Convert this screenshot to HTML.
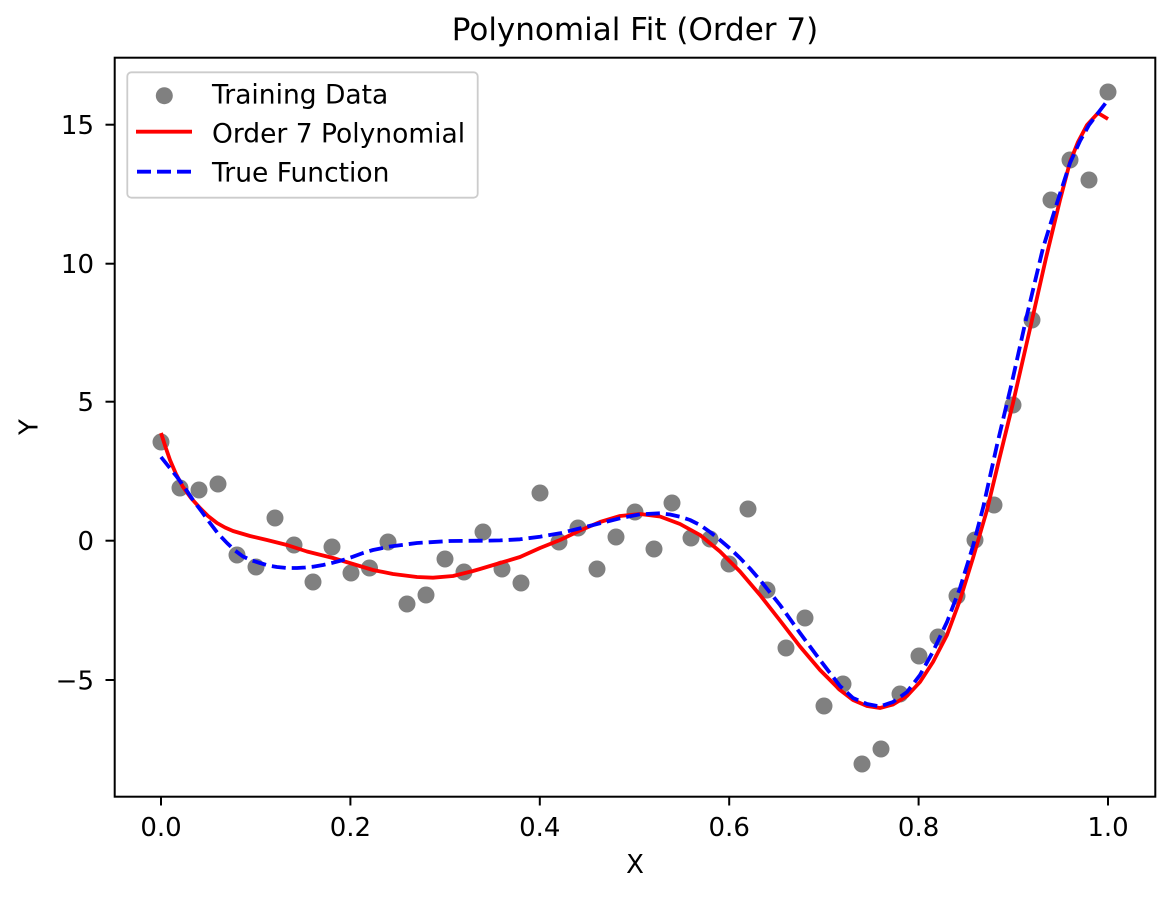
<!DOCTYPE html>
<html>
<head>
<meta charset="utf-8">
<style>
  html, body { margin: 0; padding: 0; background: #ffffff; }
  svg { display: block; }
  text { font-family: "DejaVu Sans", "Liberation Sans", sans-serif; fill: #000; }
</style>
</head>
<body>
<svg width="1174" height="898" viewBox="0 0 1174 898" xmlns="http://www.w3.org/2000/svg">
  <rect x="0" y="0" width="1174" height="898" fill="#ffffff"/>

  <text x="635" y="40" font-size="31" text-anchor="middle">Polynomial Fit (Order 7)</text>

  <g fill="#808080">
    <circle cx="161" cy="442" r="8.5"/>
    <circle cx="180" cy="488" r="8.5"/>
    <circle cx="199" cy="490" r="8.5"/>
    <circle cx="218" cy="484" r="8.5"/>
    <circle cx="237" cy="555" r="8.5"/>
    <circle cx="256" cy="567" r="8.5"/>
    <circle cx="275" cy="518" r="8.5"/>
    <circle cx="294" cy="545" r="8.5"/>
    <circle cx="313" cy="582" r="8.5"/>
    <circle cx="332" cy="547" r="8.5"/>
    <circle cx="351" cy="573" r="8.5"/>
    <circle cx="369.5" cy="568" r="8.5"/>
    <circle cx="388" cy="542" r="8.5"/>
    <circle cx="407" cy="604" r="8.5"/>
    <circle cx="426" cy="595" r="8.5"/>
    <circle cx="445" cy="559" r="8.5"/>
    <circle cx="464" cy="572" r="8.5"/>
    <circle cx="483" cy="532" r="8.5"/>
    <circle cx="502" cy="569" r="8.5"/>
    <circle cx="521" cy="583" r="8.5"/>
    <circle cx="540" cy="493" r="8.5"/>
    <circle cx="559" cy="542" r="8.5"/>
    <circle cx="578" cy="528" r="8.5"/>
    <circle cx="597" cy="569" r="8.5"/>
    <circle cx="616" cy="537" r="8.5"/>
    <circle cx="635" cy="512" r="8.5"/>
    <circle cx="654" cy="549" r="8.5"/>
    <circle cx="672" cy="503" r="8.5"/>
    <circle cx="691" cy="538" r="8.5"/>
    <circle cx="710" cy="539" r="8.5"/>
    <circle cx="729" cy="564" r="8.5"/>
    <circle cx="748" cy="509" r="8.5"/>
    <circle cx="767" cy="590" r="8.5"/>
    <circle cx="786" cy="648" r="8.5"/>
    <circle cx="805" cy="618" r="8.5"/>
    <circle cx="824" cy="706" r="8.5"/>
    <circle cx="843" cy="684" r="8.5"/>
    <circle cx="862" cy="764" r="8.5"/>
    <circle cx="881" cy="749" r="8.5"/>
    <circle cx="900" cy="694" r="8.5"/>
    <circle cx="919" cy="656" r="8.5"/>
    <circle cx="938" cy="637" r="8.5"/>
    <circle cx="957" cy="596" r="8.5"/>
    <circle cx="975" cy="540" r="8.5"/>
    <circle cx="994" cy="505" r="8.5"/>
    <circle cx="1013" cy="405" r="8.5"/>
    <circle cx="1032" cy="320" r="8.5"/>
    <circle cx="1051" cy="200" r="8.5"/>
    <circle cx="1070" cy="160" r="8.5"/>
    <circle cx="1089" cy="180" r="8.5"/>
    <circle cx="1108" cy="92" r="8.5"/>
  </g>

  <polyline fill="none" stroke="#ff0000" stroke-width="3.8" stroke-linejoin="round"
    points="161,433 165.5,447 170,460 176,474 183,487 191,498 200,508 208,516 217,523 225,527.5 233,531 250,536 267,540 287,545 307,551.5 333,558 353,564 373,570 393,574 417,577 433,577.7 453,576 473,571 480,569 500,563 520,557 540,548 560,540 580,530.5 600,522 620,516 640,514 660,516.5 680,524 700,535 720,551.5 740,571.5 760,595 780,620.5 800,646.5 820,670 840,690 853,700 867,706 880,708 893,704.5 907,696 920,682 933,662 947,635 960,600 973,558 987,510 1000,456 1013,403 1032,320 1046,258 1060,200 1070,162 1078,142 1087,125 1098,113 1108,119"/>

  <polyline fill="none" stroke="#0000ff" stroke-width="3.8" stroke-linejoin="round" stroke-dasharray="14 6"
    points="161,457 169,467 177,477 185,488 193,500 202,512 210,523 218,533.5 227,543 235,550.5 243,556.5 252,560.5 260,563 268,565.5 277,567 287,568 297,568 305,567.5 313,566.7 323,565 333,562.7 343,560 353,556.7 363,553 373,550 390,546.5 417,543 450,541 483,540.7 500,540.4 520,539.3 540,536.7 560,533.3 580,528.3 600,523.3 620,518.3 640,514.3 660,513.3 670,514.5 680,516.7 690,520 700,525 710,532 720,540 730,548.5 740,558 750,568.5 760,580 780,605 800,633 820,660 840,686 853,698 867,704 880,706.5 893,702 907,692 920,675 933,651.5 947,622 960,588 973,546 983,508 997,445 1012,382 1027,315 1043,248 1057,203 1070,163 1080,141 1089,125 1098,113 1108,100"/>

  <rect x="114.7" y="57.7" width="1040.6" height="739" fill="none" stroke="#000" stroke-width="2"/>

  <g stroke="#000" stroke-width="2">
    <line x1="161" y1="796.7" x2="161" y2="805.5"/>
    <line x1="350.4" y1="796.7" x2="350.4" y2="805.5"/>
    <line x1="539.8" y1="796.7" x2="539.8" y2="805.5"/>
    <line x1="729.2" y1="796.7" x2="729.2" y2="805.5"/>
    <line x1="918.6" y1="796.7" x2="918.6" y2="805.5"/>
    <line x1="1108" y1="796.7" x2="1108" y2="805.5"/>
  </g>
  <g font-size="26" text-anchor="middle">
    <text x="161" y="836">0.0</text>
    <text x="350.4" y="836">0.2</text>
    <text x="539.8" y="836">0.4</text>
    <text x="729.2" y="836">0.6</text>
    <text x="918.6" y="836">0.8</text>
    <text x="1108" y="836">1.0</text>
  </g>

  <g stroke="#000" stroke-width="2">
    <line x1="105.5" y1="124.7" x2="114.7" y2="124.7"/>
    <line x1="105.5" y1="263.7" x2="114.7" y2="263.7"/>
    <line x1="105.5" y1="401.7" x2="114.7" y2="401.7"/>
    <line x1="105.5" y1="540.7" x2="114.7" y2="540.7"/>
    <line x1="105.5" y1="680" x2="114.7" y2="680"/>
  </g>
  <g font-size="26" text-anchor="end">
    <text x="94" y="134.2">15</text>
    <text x="94" y="273.2">10</text>
    <text x="94" y="411.2">5</text>
    <text x="94" y="550.2">0</text>
    <text x="94" y="689.5">−5</text>
  </g>

  <text x="635" y="873" font-size="26" text-anchor="middle">X</text>
  <text transform="translate(37.5,427) rotate(-90)" font-size="26" text-anchor="middle">Y</text>

  <rect x="127.3" y="72.3" width="350.4" height="125.4" rx="4" ry="4" fill="#ffffff" fill-opacity="0.8" stroke="#cccccc" stroke-width="1.8"/>
  <circle cx="164.3" cy="95.7" r="8.5" fill="#808080"/>
  <line x1="136" y1="131.7" x2="192" y2="131.7" stroke="#ff0000" stroke-width="3.8"/>
  <line x1="137" y1="171.7" x2="192" y2="171.7" stroke="#0000ff" stroke-width="3.8" stroke-dasharray="14 6"/>
  <g font-size="26.5">
    <text x="212" y="103.3">Training Data</text>
    <text x="212" y="142.3">Order 7 Polynomial</text>
    <text x="212" y="181.7">True Function</text>
  </g>
</svg>
</body>
</html>
